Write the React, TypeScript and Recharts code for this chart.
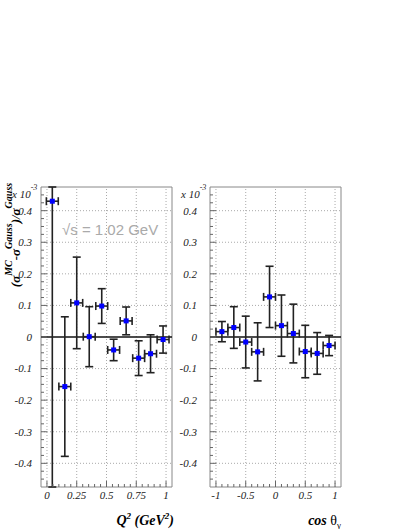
import React from 'react';
import { ScatterChart, Scatter, XAxis, YAxis, ErrorBar, ReferenceLine, ReferenceArea } from 'recharts';

// ---- Left panel: Q^2 bins (values in units of 10^-3) ----
const q2Centers = [0.045, 0.15, 0.25, 0.355, 0.46, 0.56, 0.665, 0.77, 0.87, 0.975];
const q2HalfWidths = [0.05, 0.05, 0.05, 0.05, 0.05, 0.05, 0.05, 0.05, 0.05, 0.05];
const q2Values = [0.43, -0.157, 0.108, 0.001, 0.098, -0.041, 0.051, -0.067, -0.053, -0.008];
// visible error-bar extents (the first bin runs off both edges of the frame)
const q2ErrDown = [0.905, 0.221, 0.145, 0.095, 0.055, 0.034, 0.044, 0.055, 0.06, 0.043];
const q2ErrUp = [0.045, 0.221, 0.145, 0.095, 0.055, 0.034, 0.044, 0.055, 0.06, 0.043];

// ---- Right panel: cos(theta_gamma) bins ----
const cosCenters = [-0.9, -0.7, -0.5, -0.3, -0.1, 0.1, 0.3, 0.5, 0.7, 0.9];
const cosHalfWidths = [0.1, 0.1, 0.1, 0.1, 0.1, 0.1, 0.1, 0.1, 0.1, 0.1];
const cosValues = [0.017, 0.03, -0.016, -0.047, 0.127, 0.036, 0.011, -0.046, -0.052, -0.027];
const cosErrors = [0.032, 0.066, 0.082, 0.092, 0.097, 0.097, 0.093, 0.083, 0.066, 0.032];

// ---- Ticks ----
const yMajorTicks = [-0.4, -0.3, -0.2, -0.1, 0, 0.1, 0.2, 0.3, 0.4];
const yAllTicks = [
  -0.45, -0.425, -0.4, -0.375, -0.35, -0.325, -0.3, -0.275, -0.25, -0.225, -0.2, -0.175,
  -0.15, -0.125, -0.1, -0.075, -0.05, -0.025, 0, 0.025, 0.05, 0.075, 0.1, 0.125, 0.15,
  0.175, 0.2, 0.225, 0.25, 0.275, 0.3, 0.325, 0.35, 0.375, 0.4, 0.425, 0.45,
];
const q2MajorTicks = [0, 0.25, 0.5, 0.75, 1];
const q2AllTicks = [
  0, 0.05, 0.1, 0.15, 0.2, 0.25, 0.3, 0.35, 0.4, 0.45, 0.5, 0.55, 0.6, 0.65, 0.7, 0.75,
  0.8, 0.85, 0.9, 0.95, 1,
];
const cosMajorTicks = [-1, -0.5, 0, 0.5, 1];
const cosAllTicks = [
  -1, -0.9, -0.8, -0.7, -0.6, -0.5, -0.4, -0.3, -0.2, -0.1, 0, 0.1, 0.2, 0.3, 0.4, 0.5,
  0.6, 0.7, 0.8, 0.9, 1,
];

const Y_DOMAIN: [number, number] = [-0.475, 0.475];
const Q2_DOMAIN: [number, number] = [-0.05, 1.05];
const COS_DOMAIN: [number, number] = [-1.1, 1.1];

const q2Data = q2Centers.map((x, i) => ({
  x,
  y: q2Values[i],
  xErr: q2HalfWidths[i],
  yErr: [q2ErrDown[i], q2ErrUp[i]],
}));
const cosData = cosCenters.map((x, i) => ({ x, y: cosValues[i], xErr: cosHalfWidths[i], yErr: cosErrors[i] }));

const SERIF = '"Liberation Serif", "DejaVu Serif", serif';
const isIn = (v: number, arr: number[]) => arr.some((a) => Math.abs(a - v) < 1e-9);

const YTick = (props: any) => {
  const { x, y, payload, gap, majors } = props;
  const v = payload.value;
  const major = isIn(v, majors);
  return (
    <g>
      <line x1={x} x2={x + (major ? 6 : 3)} y1={y} y2={y} stroke="#666" strokeWidth={1} />
      {major && (
        <text x={x - gap} y={y} dy="0.35em" textAnchor="end" fontFamily={SERIF} fontStyle="italic" fontSize={11} fill="#222">
          {String(v)}
        </text>
      )}
    </g>
  );
};

const XTick = (props: any) => {
  const { x, y, payload, majors } = props;
  const v = payload.value;
  const major = isIn(v, majors);
  return (
    <g>
      <line x1={x} x2={x} y1={y} y2={y - (major ? 6 : 3)} stroke="#666" strokeWidth={1} />
      {major && (
        <text x={x} y={y + 12} textAnchor="middle" fontFamily={SERIF} fontStyle="italic" fontSize={11} fill="#222">
          {String(v)}
        </text>
      )}
    </g>
  );
};

const Square = (props: any) => (
  <rect x={props.cx - 2.5} y={props.cy - 2.5} width={5} height={5} fill="#0000ff" />
);
const Empty = () => <g />;

type PanelProps = {
  data: any[];
  xDomain: [number, number];
  xTicks: number[];
  xMajors: number[];
  width: number;
  margin: any;
  yAxisWidth: number;
  labelGap: number;
};

const Panel = ({ data, xDomain, xTicks, xMajors, width, margin, yAxisWidth, labelGap }: PanelProps) => (
  <ScatterChart width={width} height={529} margin={margin}>
    <XAxis
      type="number"
      dataKey="x"
      domain={xDomain}
      allowDataOverflow
      ticks={xTicks}
      interval={0}
      tickSize={0}
      tickMargin={0}
      tickLine={false}
      axisLine={false}
      height={42}
      tick={(p: any) => <XTick {...p} majors={xMajors} />}
    />
    <YAxis
      type="number"
      dataKey="y"
      domain={Y_DOMAIN}
      allowDataOverflow
      ticks={yAllTicks}
      interval={0}
      tickSize={0}
      tickMargin={0}
      tickLine={false}
      axisLine={false}
      width={yAxisWidth}
      tick={(p: any) => <YTick {...p} majors={yMajorTicks} gap={labelGap} />}
    />
    {xMajors.map((v) => (
      <ReferenceLine key={'gx' + v} x={v} stroke="#aaa" strokeDasharray="1 2" strokeWidth={1} />
    ))}
    {yMajorTicks.filter((v) => v !== 0).map((v) => (
      <ReferenceLine key={'gy' + v} y={v} stroke="#aaa" strokeDasharray="1 2" strokeWidth={1} />
    ))}
    <ReferenceArea x1={xDomain[0]} x2={xDomain[1]} y1={Y_DOMAIN[0]} y2={Y_DOMAIN[1]} fill="none" fillOpacity={0} stroke="#888" strokeWidth={1} />
    <ReferenceLine y={0} stroke="#111" strokeWidth={1.5} />
    <Scatter data={data} shape={Empty} isAnimationActive={false}>
      <ErrorBar dataKey="yErr" direction="y" width={4} stroke="#222" strokeWidth={1.6} isAnimationActive={false} />
      <ErrorBar dataKey="xErr" direction="x" width={4} stroke="#222" strokeWidth={1.6} isAnimationActive={false} />
    </Scatter>
    <Scatter data={data} shape={Square} isAnimationActive={false} />
  </ScatterChart>
);

export default function App() {
  return (
    <div style={{ position: 'absolute', left: 0, top: 0, width: 409, height: 529, background: '#fff' }}>
      <div style={{ position: 'absolute', left: 0, top: 0 }}>
        <Panel
          data={q2Data}
          xDomain={Q2_DOMAIN}
          xTicks={q2AllTicks}
          xMajors={q2MajorTicks}
          width={200}
          margin={{ top: 187, right: 28, bottom: 0, left: 0 }}
          yAxisWidth={41}
          labelGap={9}
        />
      </div>
      <div style={{ position: 'absolute', left: 170, top: 0 }}>
        <Panel
          data={cosData}
          xDomain={COS_DOMAIN}
          xTicks={cosAllTicks}
          xMajors={cosMajorTicks}
          width={239}
          margin={{ top: 187, right: 68, bottom: 0, left: 0 }}
          yAxisWidth={40}
          labelGap={13}
        />
      </div>
      <svg width={409} height={529} style={{ position: 'absolute', left: 0, top: 0, pointerEvents: 'none' }}>
        {/* y-axis title */}
        <text
          x={20}
          y={235}
          transform="rotate(-90 20 235)"
          textAnchor="middle"
          fontFamily={SERIF}
          fontStyle="italic"
          fontWeight="bold"
          fontSize={13}
          fill="#000"
        >
          (σ<tspan dy={-8} fontSize={10}>MC</tspan>
          <tspan dy={8}>-σ</tspan>
          <tspan dy={-8} fontSize={10}>Gauss</tspan>
          <tspan dy={8}>)/σ</tspan>
          <tspan dy={-8} fontSize={10}>Gauss</tspan>
        </text>
        {/* x 10^-3 labels */}
        <text x={12} y={198} fontFamily={SERIF} fontStyle="italic" fontSize={11} fill="#222">
          x 10<tspan dy={-8} fontSize={8}>-3</tspan>
        </text>
        <text x={181} y={198} fontFamily={SERIF} fontStyle="italic" fontSize={11} fill="#222">
          x 10<tspan dy={-8} fontSize={8}>-3</tspan>
        </text>
        {/* annotation */}
        <text x={62} y={235} fontFamily='"Liberation Sans", Arial, sans-serif' fontSize={15} fill="#aaa">
          √s = 1.02 GeV
        </text>
        {/* x-axis titles */}
        <text x={174} y={525} textAnchor="end" fontFamily={SERIF} fontStyle="italic" fontWeight="bold" fontSize={14} fill="#000">
          Q<tspan dy={-6} fontSize={9}>2</tspan>
          <tspan dy={6}> (GeV</tspan>
          <tspan dy={-6} fontSize={9}>2</tspan>
          <tspan dy={6}>)</tspan>
        </text>
        <text x={341} y={525} textAnchor="end" fontFamily={SERIF} fontStyle="italic" fontWeight="bold" fontSize={14} fill="#000">
          cos <tspan fontStyle="normal" fontWeight="normal">θ</tspan>
          <tspan dy={3} fontSize={9} fontStyle="normal" fontWeight="normal">γ</tspan>
        </text>
      </svg>
    </div>
  );
}
